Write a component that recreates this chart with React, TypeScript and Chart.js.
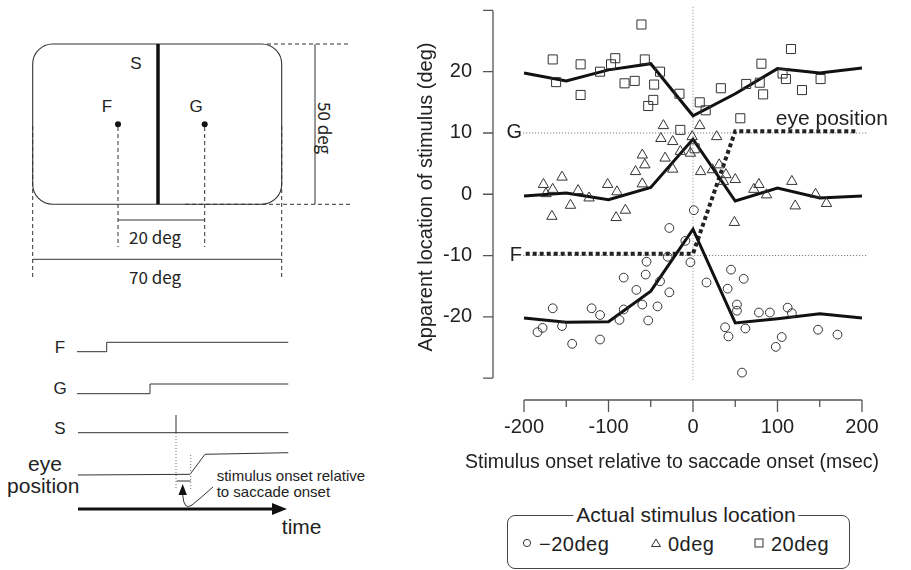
import React, { useEffect, useRef } from 'react';
import { Chart, registerables } from 'chart.js';

Chart.register(...registerables);

const FONT = "'Liberation Sans', Arial, Helvetica, sans-serif";
const JP_FONT = "'Noto Sans CJK JP', 'Noto Sans', sans-serif";
const INK = '#222';
const AXIS = '#555';

// ---- axes ----
const X_MIN = -236.7;
const X_MAX = 209.5;
const Y_MIN = -33.57;
const Y_MAX = 30.49;
const xTickValues = [-200, -150, -100, -50, 0, 50, 100, 150, 200];
const xTickLabels = ['-200', '', '-100', '', '0', '', '100', '', '200'];
const yTickValues = [-30, -20, -10, 0, 10, 20, 30];
const yTickLabels = ['', '-20', '-10', '0', '10', '20', ''];

// ---- trials: stimulus at -20 deg (circles) ----
const circleTimes = [-184, -178, -166, -155, -143, -120, -110, -110, -87, -82, -82, -67, -60, -56, -53, -55, -42, -39, -28, -30, -28, -9, -3, 16, 1, 45, 60, 41, 52, 52, 38, 42, 62, 58, 78, 91, 112, 117, 105, 98, 148, 171];
const circleLocs = [-22.5, -21.8, -18.6, -21.5, -24.4, -18.6, -19.7, -23.7, -20.5, -18.8, -13.6, -15.6, -18.0, -13.1, -20.6, -11.0, -18.3, -14.2, -16.0, -10.2, -5.5, -7.6, -11.1, -14.4, -2.6, -12.3, -13.8, -15.4, -18.0, -19.0, -21.7, -23.2, -21.9, -29.1, -19.3, -19.3, -18.5, -19.4, -23.3, -24.9, -22.1, -22.9];

// ---- trials: stimulus at 0 deg (triangles) ----
const triTimes = [-177, -174, -166, -167, -155, -145, -136, -123, -101, -90, -91, -80, -68, -57, -60, -60, -35, -38, -24, -33, -24, -15, -3, -1, 8, 9, 23, 28, 31, 39, 36, 50, 49, 72, 78, 87, 117, 121, 145, 158];
const triLocs = [1.6, 0.1, 0.8, -3.6, 2.8, -1.8, 0.6, -0.6, 1.6, 0.4, -3.8, -2.6, 3.7, 4.8, 6.4, 1.7, 11.2, 9.1, 8.6, 5.9, 4.1, 7.0, 6.7, 9.4, 11.2, 3.7, 4.0, 9.4, 4.8, 3.2, 2.1, 2.4, -4.6, 0.8, 1.6, -0.1, 2.1, -1.9, 0.0, -1.5];

// ---- trials: stimulus at 20 deg (squares) ----
const sqTimes = [-166, -162, -133, -133, -110, -97, -92, -81, -69, -61, -57, -46, -47, -53, -39, -16, -15, 8, 15, 2, 33, 56, 63, 81, 79, 83, 106, 110, 116, 129, 151];
const sqLocs = [22.0, 18.3, 21.2, 16.2, 20.0, 21.2, 22.2, 18.1, 18.5, 27.7, 22.0, 17.9, 15.4, 14.4, 20.0, 16.4, 10.5, 15.0, 13.7, 7.5, 17.3, 12.4, 18.0, 21.3, 18.2, 16.3, 19.7, 18.8, 23.7, 17.0, 18.8];

// ---- mean curves ----
const meanTimes = [-200, -150, -100, -50, 0, 50, 100, 150, 200];
const meanMinus20 = [-20.2, -20.9, -20.8, -15.8, -5.7, -21.0, -20.3, -19.5, -20.2];
const meanZero = [-0.3, 0.2, -0.9, 1.1, 9.0, -1.1, 1.0, -0.6, -0.3];
const mean20 = [19.8, 18.5, 20.3, 21.3, 12.8, 16.4, 20.5, 19.8, 20.6];

// ---- eye position ----
const eyeTimes = [-198, 0, 50, 193];
const eyeLocs = [-9.7, -9.7, 10.3, 10.3];

// ---- reference lines ----
const refTimes = [-201, 205];
const gLocs = [10, 10];
const fLocs = [-10, -10];
const zeroTimes = [0, 0];
const zeroLocs = [30.6, -30.6];

const pts = (xs: number[], ys: number[]) => xs.map((x, i) => ({ x, y: ys[i] }));

const decorPlugin = {
  id: 'decor',
  afterDatasetsDraw(chart: any) {
    const { ctx, chartArea } = chart;
    const xs = chart.scales.x;
    const ys = chart.scales.y;
    ctx.save();
    ctx.strokeStyle = AXIS;
    ctx.lineWidth = 1.3;
    ctx.beginPath();
    const left = chartArea.left;
    ctx.moveTo(left, ys.getPixelForValue(30));
    ctx.lineTo(left, ys.getPixelForValue(-30));
    yTickValues.forEach((v) => {
      const p = ys.getPixelForValue(v);
      ctx.moveTo(left - 10, p);
      ctx.lineTo(left, p);
    });
    const yb = chartArea.bottom;
    ctx.moveTo(xs.getPixelForValue(-200), yb);
    ctx.lineTo(xs.getPixelForValue(200), yb);
    xTickValues.forEach((v) => {
      const p = xs.getPixelForValue(v);
      const len = v % 100 === 0 ? 12 : 7;
      ctx.moveTo(p, yb);
      ctx.lineTo(p, yb + len);
    });
    ctx.stroke();

    ctx.fillStyle = INK;
    ctx.font = `20px ${FONT}`;
    ctx.textBaseline = 'middle';
    ctx.textAlign = 'right';
    const gx = xs.getPixelForValue(-200) - 2;
    ctx.fillText('G', gx, ys.getPixelForValue(10));
    ctx.fillText('F', gx, ys.getPixelForValue(-10));
    ctx.textAlign = 'left';
    ctx.font = `21px ${FONT}`;
    ctx.fillText('eye position', xs.getPixelForValue(98), ys.getPixelForValue(12.2));

    ctx.font = `19.5px ${FONT}`;
    ctx.textAlign = 'center';
    ctx.fillText('Stimulus onset relative to saccade onset (msec)', 292, 463);
    ctx.font = `20px ${FONT}`;
    ctx.translate(46, 197);
    ctx.rotate(-Math.PI / 2);
    ctx.fillText('Apparent location of stimulus (deg)', 0, 0);
    ctx.restore();
  },
};

function makeConfig(): any {
  const marker = {
    showLine: false,
    borderColor: '#333',
    backgroundColor: 'rgba(0,0,0,0)',
    borderWidth: 1,
    clip: false,
  };
  const line = {
    showLine: true,
    pointRadius: 0,
    borderColor: '#111',
    borderWidth: 3,
    fill: false,
    clip: false,
  };
  return {
    type: 'scatter',
    data: {
      datasets: [
        { label: '-20deg', data: pts(circleTimes, circleLocs), pointStyle: 'circle', pointRadius: 4.4, ...marker },
        { label: '0deg', data: pts(triTimes, triLocs), pointStyle: 'triangle', pointRadius: 6, ...marker },
        { label: '20deg', data: pts(sqTimes, sqLocs), pointStyle: 'rect', pointRadius: 6.4, ...marker },
        { label: 'mean -20', data: pts(meanTimes, meanMinus20), ...line },
        { label: 'mean 0', data: pts(meanTimes, meanZero), ...line },
        { label: 'mean 20', data: pts(meanTimes, mean20), ...line },
        { label: 'eye position', data: pts(eyeTimes, eyeLocs), ...line, borderWidth: 4, borderDash: [4, 3], borderColor: '#222' },
        { label: 'G', data: pts(refTimes, gLocs), ...line, borderWidth: 1, borderDash: [1, 2], borderColor: '#666' },
        { label: 'F', data: pts(refTimes, fLocs), ...line, borderWidth: 1, borderDash: [1, 2], borderColor: '#666' },
        { label: 'onset', data: pts(zeroTimes, zeroLocs), ...line, borderWidth: 1, borderDash: [1, 2], borderColor: '#888' },
      ],
    },
    options: {
      animation: false,
      responsive: false,
      maintainAspectRatio: false,
      layout: { padding: { top: 5, right: 41, left: 0, bottom: 0 } },
      plugins: { legend: { display: false }, tooltip: { enabled: false }, title: { display: false } },
      scales: {
        x: {
          type: 'linear',
          min: X_MIN,
          max: X_MAX,
          afterBuildTicks: (s: any) => {
            s.ticks = xTickValues.map((v) => ({ value: v }));
          },
          afterFit: (s: any) => {
            s.height = 80;
            s.paddingLeft = 0;
            s.paddingRight = 0;
          },
          ticks: {
            autoSkip: false,
            maxRotation: 0,
            minRotation: 0,
            padding: 3,
            color: INK,
            font: { family: FONT, size: 20 },
            callback: (v: any) => {
              const i = xTickValues.indexOf(Number(v));
              return i >= 0 ? xTickLabels[i] : '';
            },
          },
          grid: { drawOnChartArea: false, drawTicks: true, tickLength: 12, color: 'rgba(0,0,0,0)', tickColor: 'rgba(0,0,0,0)' },
          border: { display: false },
        },
        y: {
          type: 'linear',
          min: Y_MIN,
          max: Y_MAX,
          afterBuildTicks: (s: any) => {
            s.ticks = yTickValues.map((v) => ({ value: v }));
          },
          afterFit: (s: any) => {
            s.width = 113;
            s.paddingTop = 0;
            s.paddingBottom = 0;
          },
          ticks: {
            autoSkip: false,
            padding: 11,
            color: INK,
            font: { family: FONT, size: 20 },
            callback: (v: any) => {
              const i = yTickValues.indexOf(Number(v));
              return i >= 0 ? yTickLabels[i] : '';
            },
          },
          grid: { drawOnChartArea: false, drawTicks: true, tickLength: 10, color: 'rgba(0,0,0,0)', tickColor: 'rgba(0,0,0,0)' },
          border: { display: false },
        },
      },
    },
    plugins: [decorPlugin],
  };
}

function Schematic() {
  const ln = '#333';
  const t = { fontFamily: FONT, fill: INK } as any;
  return (
    <svg width={380} height={570} style={{ position: 'absolute', left: 0, top: 0 }}>
      {/* display screen */}
      <rect x={32.7} y={44} width={249} height={160.3} rx={20} ry={20} fill="none" stroke={ln} strokeWidth={1.1} />
      <line x1={158} y1={44} x2={158} y2={204.3} stroke="#111" strokeWidth={3.5} />
      <text x={136} y={63} fontSize={17} textAnchor="middle" dominantBaseline="central" {...t}>S</text>
      <text x={107} y={106} fontSize={17} textAnchor="middle" dominantBaseline="central" {...t}>F</text>
      <text x={196} y={106} fontSize={17} textAnchor="middle" dominantBaseline="central" {...t}>G</text>
      <circle cx={118} cy={124.3} r={3} fill="#111" />
      <circle cx={204.7} cy={124.3} r={3} fill="#111" />
      <g stroke={ln} strokeWidth={1} strokeDasharray="4 3">
        <line x1={118} y1={127} x2={118} y2={247} />
        <line x1={204.7} y1={127} x2={204.7} y2={247} />
        <line x1={32.7} y1={126} x2={32.7} y2={277} />
        <line x1={281.7} y1={126} x2={281.7} y2={277} />
        <line x1={267} y1={44} x2={350} y2={44} />
        <line x1={185} y1={204.3} x2={350} y2={204.3} />
      </g>
      <line x1={118} y1={220} x2={204.7} y2={220} stroke={ln} strokeWidth={1} />
      <line x1={32.7} y1={259.3} x2={281.7} y2={259.3} stroke={ln} strokeWidth={1} />
      <line x1={315} y1={44} x2={315} y2={204.3} stroke={ln} strokeWidth={1} />
      <text x={155} y={236} fontSize={17} textAnchor="middle" dominantBaseline="central" fontFamily={JP_FONT} fill={INK}>20 deg</text>
      <text x={155} y={276} fontSize={17} textAnchor="middle" dominantBaseline="central" fontFamily={JP_FONT} fill={INK}>70 deg</text>
      <text x={0} y={0} fontSize={17} textAnchor="middle" dominantBaseline="central" fontFamily={JP_FONT} fill={INK} transform="translate(325 128) rotate(90)">50 deg</text>

      {/* time course */}
      <text x={60} y={347.3} fontSize={17} textAnchor="middle" dominantBaseline="central" {...t}>F</text>
      <polyline points="77,351.7 106.7,351.7 106.7,342.3 288.3,342.3" fill="none" stroke={ln} strokeWidth={1} />
      <text x={60} y={388.3} fontSize={17} textAnchor="middle" dominantBaseline="central" {...t}>G</text>
      <polyline points="77,393.7 150,393.7 150,384 288.3,384" fill="none" stroke={ln} strokeWidth={1} />
      <text x={60} y={428.3} fontSize={17} textAnchor="middle" dominantBaseline="central" {...t}>S</text>
      <line x1={78} y1={432.7} x2={288.3} y2={432.7} stroke={ln} strokeWidth={1} />
      <line x1={176} y1={415} x2={176} y2={432.7} stroke={ln} strokeWidth={1} />
      <text x={45} y={463.3} fontSize={21} textAnchor="middle" dominantBaseline="central" {...t}>eye</text>
      <text x={43.3} y={485} fontSize={21} textAnchor="middle" dominantBaseline="central" {...t}>position</text>
      <polyline points="78,475 190,474.3 205,454.3 288.3,452.7" fill="none" stroke={ln} strokeWidth={1} />
      <g stroke="#777" strokeWidth={1} strokeDasharray="1 2">
        <line x1={176} y1={433} x2={176} y2={490} />
        <line x1={190.7} y1={455} x2={190.7} y2={490} />
      </g>
      <line x1={176.7} y1={481} x2={190.7} y2={481} stroke={ln} strokeWidth={1} />
      <polygon points="182.7,484 178.5,495 186.9,495" fill="#111" />
      <path d="M182.7,495 Q184,511 192,505 Q203,496 213,487" fill="none" stroke={ln} strokeWidth={1} />
      <text x={216.7} y={475} fontSize={15} dominantBaseline="central" {...t}>stimulus onset relative</text>
      <text x={216.7} y={491.7} fontSize={15} dominantBaseline="central" {...t}>to saccade onset</text>
      <line x1={78} y1={509} x2={276} y2={509} stroke="#111" strokeWidth={3} />
      <polygon points="287,509 272,503 272,515" fill="#111" />
      <text x={301.7} y={526.7} fontSize={21} textAnchor="middle" dominantBaseline="central" {...t}>time</text>
    </svg>
  );
}

function Legend() {
  const box: any = {
    position: 'absolute', left: 507, top: 515, width: 343, height: 54,
    border: '1px solid #444', borderRadius: 8, boxSizing: 'border-box', fontFamily: FONT, color: INK,
  };
  const item = (left: number, text: string): any => (
    <span style={{ position: 'absolute', left, top: 28, transform: 'translateY(-50%)', fontSize: 20, lineHeight: '22px', letterSpacing: '0.5px', whiteSpace: 'nowrap' }}>{text}</span>
  );
  return (
    <div style={box}>
      <span style={{ position: 'absolute', left: 178, top: -1, transform: 'translate(-50%, -50%)', background: '#fff', padding: '0 3px', fontSize: 21, lineHeight: '24px', whiteSpace: 'nowrap' }}>Actual stimulus location</span>
      <svg width={343} height={54} style={{ position: 'absolute', left: -1, top: -1 }}>
        <circle cx={20} cy={28} r={3.6} fill="none" stroke="#333" strokeWidth={1} />
        <polygon points="149,24 153.5,31.5 144.5,31.5" fill="none" stroke="#333" strokeWidth={1} />
        <rect x={248} y={24} width={8} height={8} fill="none" stroke="#333" strokeWidth={1} />
      </svg>
      {item(31, '\u221220deg')}
      {item(160, '0deg')}
      {item(263, '20deg')}
    </div>
  );
}

export default function App() {
  const canvasRef = useRef<HTMLCanvasElement>(null);
  useEffect(() => {
    const chart = new Chart(canvasRef.current as HTMLCanvasElement, makeConfig());
    return () => chart.destroy();
  }, []);
  return (
    <div style={{ position: 'absolute', left: 0, top: 0, width: 911, height: 570, background: '#fff', overflow: 'hidden' }}>
      <Schematic />
      <canvas ref={canvasRef} width={531} height={480} style={{ position: 'absolute', left: 380, top: 0, width: 531, height: 480 }} />
      <Legend />
    </div>
  );
}
